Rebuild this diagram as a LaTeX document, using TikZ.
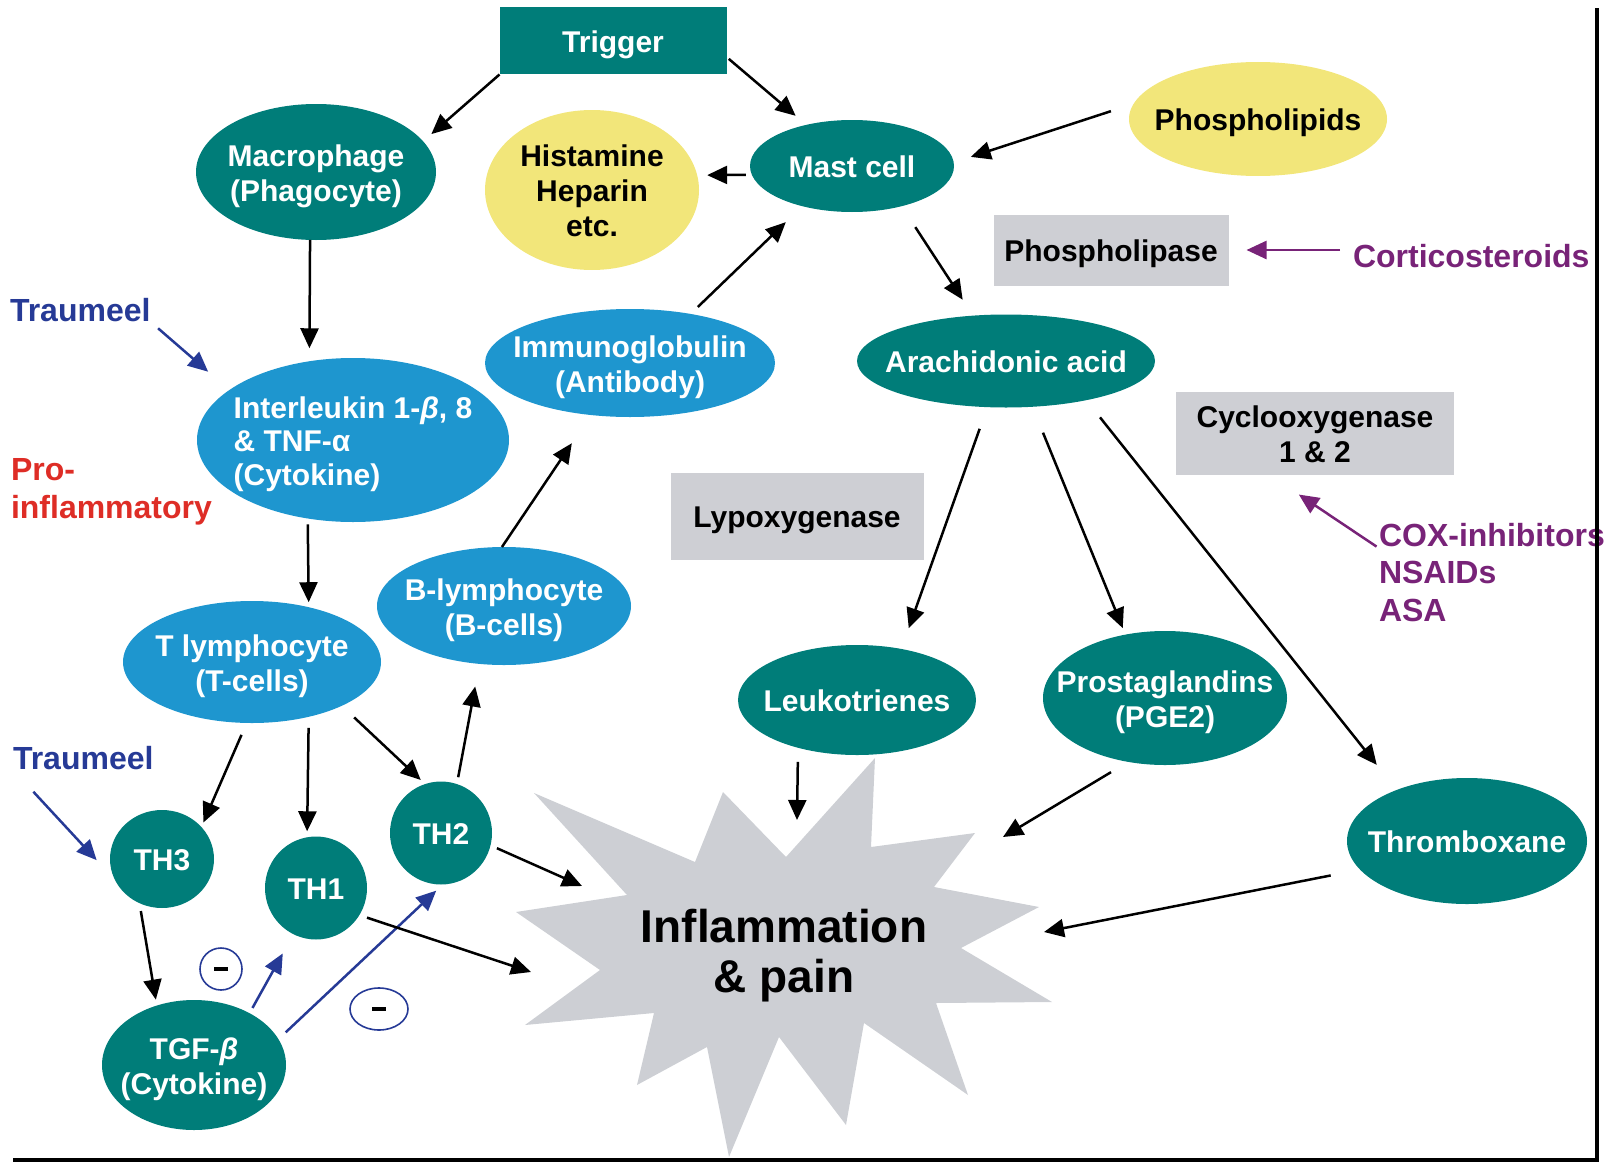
\documentclass[tikz,border=0pt]{standalone}
\usepackage{fontspec}
\setmainfont{Liberation Sans}
\usetikzlibrary{shapes.geometric,arrows.meta}
\definecolor{cellteal}{RGB}{0,125,121}
\definecolor{cellblue}{RGB}{30,150,207}
\definecolor{cellyellow}{RGB}{242,230,122}
\definecolor{enzgray}{RGB}{206,207,212}
\definecolor{stargray}{RGB}{205,207,212}
\definecolor{drugpurple}{RGB}{120,35,120}
\definecolor{prored}{RGB}{222,45,38}
\definecolor{tnavy}{RGB}{38,58,150}
\newcommand{\celltext}[2][c]{\makebox[0pt]{\smash{\raisebox{-.37em}{\begin{tabular}{@{}#1@{}}#2\end{tabular}}}}}
\tikzset{
	lab/.style={font=\fontsize{30}{35}\selectfont\bfseries},
	cell/.style={ellipse,lab,inner sep=0pt,outer sep=0pt,text=white},
	tealcell/.style={cell,fill=cellteal},
	bluecell/.style={cell,fill=cellblue},
	yellowcell/.style={cell,fill=cellyellow,text=black},
	enzyme/.style={rectangle,lab,fill=enzgray,inner sep=0pt,outer sep=0pt},
	drug/.style={inner sep=0pt,outer sep=0pt,align=left,font=\fontsize{32}{37.5}\selectfont\bfseries},
	minus/.style={ellipse,draw=tnavy,line width=1.6pt,inner sep=0pt},
	arr/.style={-{Triangle[length=20pt,width=18pt]},line width=2.5pt},
	barr/.style={arr,color=tnavy},
	parr/.style={arr,color=drugpurple}
}
\begin{document}
\begin{tikzpicture}[x=1pt,y=-1pt]
		\useasboundingbox (0,0) rectangle (1606,1164);
		\fill[stargray] (534,793) -- (695,862) -- (723,792) -- (786,857) -- (875,758) -- (871,847) -- (975,833) -- (934,887) -- (1039,907) -- (961,948) -- (1052,1002) -- (936,1003) -- (968,1095) -- (864,1023) -- (846,1125) -- (779,1037) -- (729,1157) -- (707,1047) -- (637,1085) -- (654,1013) -- (525,1025) -- (600,970) -- (516,912) -- (627,895) -- cycle;
		\node (infl) [font=\fontsize{46}{50}\selectfont\bfseries] at (784,947) {\celltext{Inflammation\\\& pain}};
		\node (trigger) [enzyme,fill=cellteal,text=white,minimum width=227pt,minimum height=67pt] at (613,41) {\celltext{Trigger}};
		\node (macro) [tealcell,minimum width=240pt,minimum height=136pt] at (316,172) {\celltext{Macrophage\\(Phagocyte)}};
		\node (hist) [yellowcell,minimum width=214pt,minimum height=160pt] at (592,190) {\celltext{Histamine\\Heparin\\etc.}};
		\node (mast) [tealcell,minimum width=204pt,minimum height=92pt] at (852,166) {\celltext{Mast cell}};
		\node (phl) [yellowcell,minimum width=258pt,minimum height=114pt] at (1258,119) {\celltext{Phospholipids}};
		\node (plase) [enzyme,minimum width=235pt,minimum height=71pt] at (1111,250) {\celltext{Phospholipase}};
		\node (arach) [tealcell,minimum width=298pt,minimum height=93pt] at (1006,361) {\celltext{Arachidonic acid}};
		\node (immuno) [bluecell,minimum width=290pt,minimum height=108pt] at (630,363) {\celltext{Immunoglobulin\\(Antibody)}};
		\node (inter) [bluecell,minimum width=312pt,minimum height=164pt,font=\fontsize{30}{33.5}\selectfont\bfseries] at (353,440) {\celltext[l]{Interleukin 1-\textit{β}, 8\\\& TNF-α\\(Cytokine)}};
		\node (cycl) [enzyme,minimum width=278pt,minimum height=83pt] at (1315,433) {\celltext{Cyclooxygenase\\1 \& 2}};
		\node (lypo) [enzyme,minimum width=253pt,minimum height=87pt] at (797,516) {\celltext{Lypoxygenase}};
		\node (bly) [bluecell,minimum width=254pt,minimum height=118pt] at (504,606) {\celltext{B-lymphocyte\\(B-cells)}};
		\node (tly) [bluecell,minimum width=258pt,minimum height=122pt] at (252,662) {\celltext{T lymphocyte\\(T-cells)}};
		\node (leuko) [tealcell,minimum width=238pt,minimum height=110pt] at (857,700) {\celltext{Leukotrienes}};
		\node (prosta) [tealcell,minimum width=244pt,minimum height=134pt] at (1165,698) {\celltext{Prostaglandins\\(PGE2)}};
		\node (thromb) [tealcell,minimum width=240pt,minimum height=126pt] at (1467,841) {\celltext{Thromboxane}};
		\node (th3) [tealcell,minimum width=104pt,minimum height=98pt] at (162,859) {\celltext{TH3}};
		\node (th1) [tealcell,minimum width=102pt,minimum height=103pt] at (316,888) {\celltext{TH1}};
		\node (th2) [tealcell,minimum width=102pt,minimum height=103pt] at (441,833) {\celltext{TH2}};
		\node (tgf) [tealcell,minimum width=184pt,minimum height=130pt] at (194,1065) {\celltext{TGF-\textit{β}\\(Cytokine)}};
		\node (minusA) [minus,minimum width=42pt,minimum height=42pt] at (221,969) {\rule[-2pt]{14pt}{4.5pt}};
		\node (minusB) [minus,minimum width=58pt,minimum height=42pt] at (379,1009) {\rule[-2pt]{14pt}{4.5pt}};
		\node (trau1) [drug,text=tnavy,anchor=west] at (10,310) {Traumeel};
		\node (trau2) [drug,text=tnavy,anchor=west] at (13,758) {Traumeel};
		\node (proinfl) [drug,text=prored,anchor=west] at (11,492) {Pro-\\inflammatory};
		\node (cortico) [drug,text=drugpurple,anchor=west] at (1353,256) {Corticosteroids};
		\node (coxinh) [drug,text=drugpurple,anchor=north west] at (1379,523) {COX-inhibitors\\NSAIDs\\ASA};
		\coordinate (hitA) at (582,886);
		\coordinate (hitB) at (531,972);
		\coordinate (hitC) at (797,820);
		\coordinate (hitD) at (1003,837);
		\coordinate (hitE) at (1044,932);
		\draw [arr,shorten >=11pt] (trigger.south west) -- (macro.16);
		\draw [arr,shorten <=3pt,shorten >=14pt] (trigger.-8) -- (mast.138);
		\draw [arr,shorten <=6pt,shorten >=10pt] (mast.185) -- (hist.8);
		\draw [arr,shorten <=24pt,shorten >=18pt] (phl.173) -- (mast.2);
		\draw [arr,shorten <=25pt,shorten >=19pt] (mast.-39) -- (arach.126);
		\draw [parr,shorten <=13pt,shorten >=18pt] (plase.east -| cortico.west) -- (plase.east);
		\draw [arr,shorten <=10pt,shorten >=23pt] (immuno.39) -- (mast.219);
		\draw [arr,shorten >=13pt] (macro.265) -- (inter.119);
		\draw [barr,shorten <=10pt,shorten >=28pt] (trau1.south east) -- (inter.158);
		\draw [arr,shorten <=6pt,shorten >=5pt] (inter.240) -- (tly.44);
		\draw [arr,shorten >=34pt] (bly.92) -- (immuno.233);
		\draw [arr,shorten <=23pt,shorten >=22pt] (arach.248) -- (leuko.49);
		\draw [arr,shorten <=28pt,shorten >=7pt] (arach.-60) -- (prosta.122);
		\draw [arr,shorten <=22pt,shorten >=32pt] (arach.-26) -- (thromb.144);
		\draw [parr,shorten <=3pt,shorten >=36pt] (coxinh.168) -- (cycl.222);
		\draw [arr,shorten <=13pt,shorten >=5pt] (tly.265) -- (th3.39);
		\draw [arr,shorten <=11pt,shorten >=6pt] (tly.-44) -- (th1.100);
		\draw [arr,shorten <=17pt,shorten >=6pt] (tly.-26) -- (th2.108);
		\draw [arr,shorten <=7pt,shorten >=23pt] (th2.72) -- (bly.247);
		\draw [barr,shorten <=30pt,shorten >=27pt] (trau2.south west) -- (th3.204);
		\draw [arr,shorten <=8pt,shorten >=6pt] (th3.243) -- (tgf.122);
		\draw [barr,shorten <=6pt,shorten >=22pt] (tgf.43) -- (th1.244);
		\draw [barr,shorten <=10pt,shorten >=9pt] (tgf.17) -- (th2.272);
		\draw [arr,shorten <=7pt] (th2.-14) -- (hitA);
		\draw [arr,shorten <=8pt] (th1.-32) -- (hitB);
		\draw [arr,shorten <=14pt] (leuko.219) -- (hitC);
		\draw [arr,shorten <=20pt] (prosta.240) -- (hitD);
		\draw [arr,shorten <=30pt] (thromb.195) -- (hitE);
		\draw [line width=4pt] (13,1160) -- (1597,1160) -- (1597,8);
	\end{tikzpicture}
\end{document}
